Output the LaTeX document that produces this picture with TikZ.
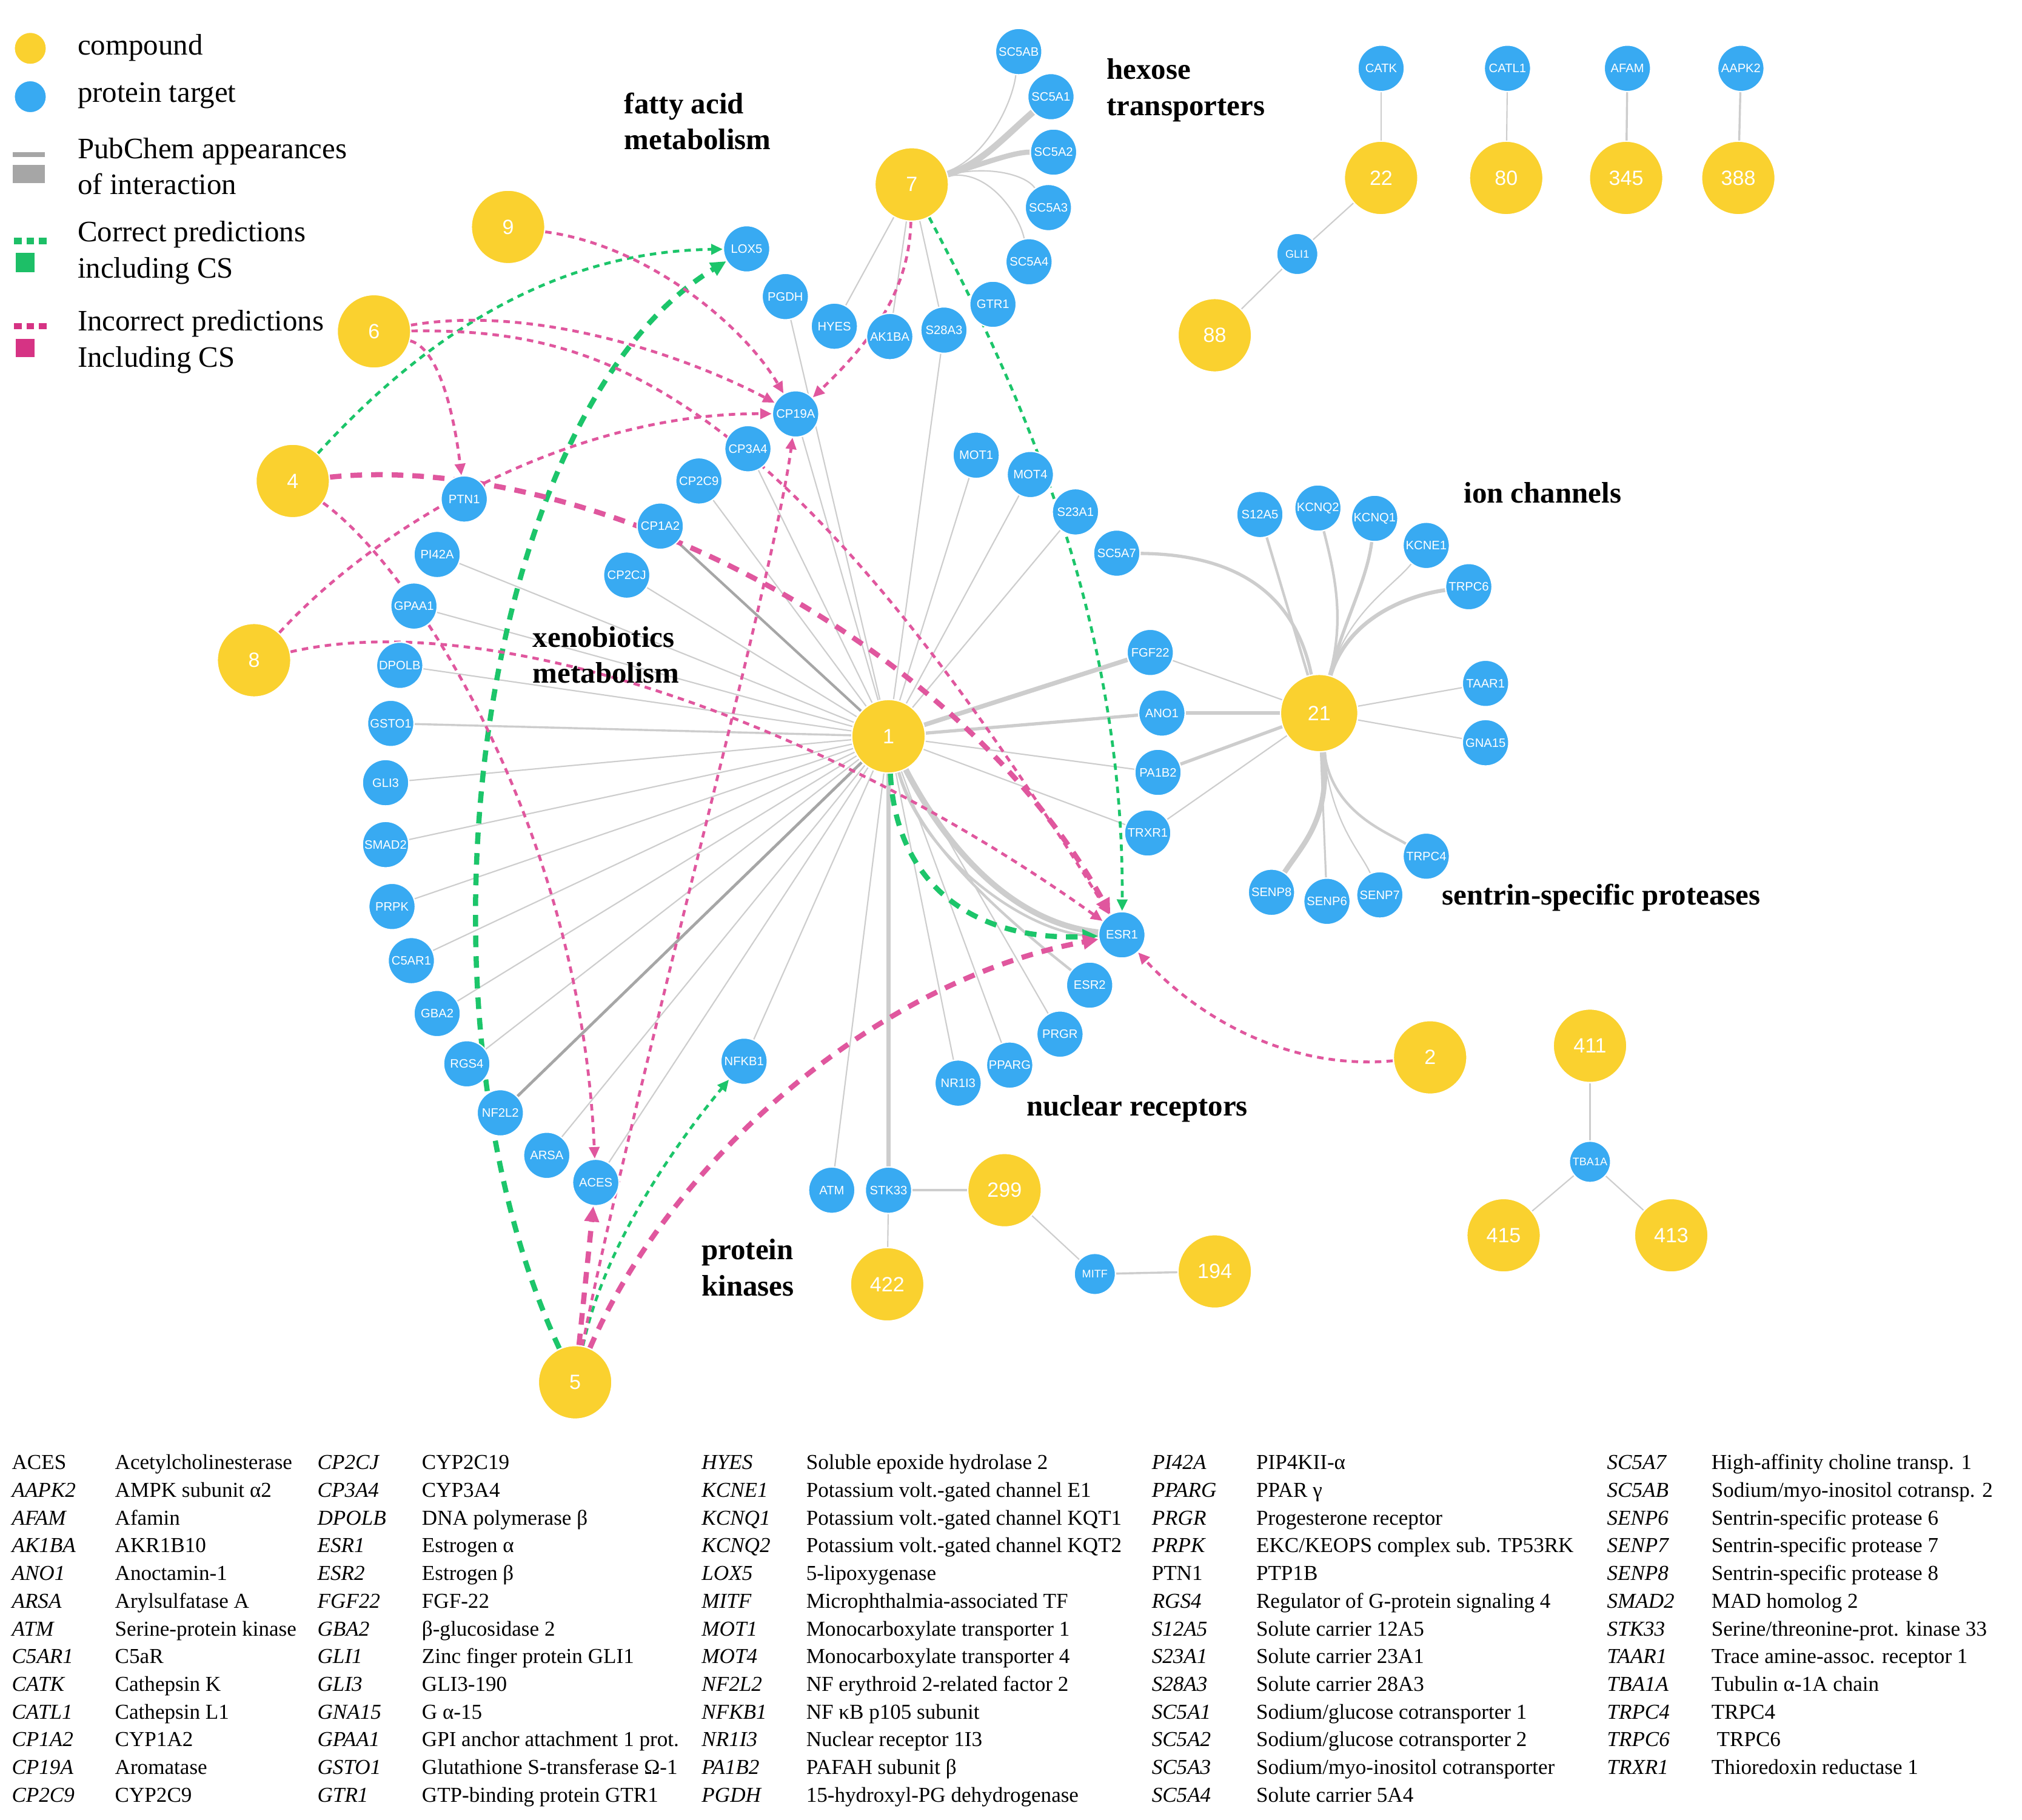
\documentclass[tikz,border=0pt]{standalone}
\usepackage{fontspec}
\setmainfont{Liberation Serif}
\newfontfamily\lblfont{Liberation Sans}
\usetikzlibrary{arrows.meta}
\definecolor{cmpY}{HTML}{FAD12F}
\definecolor{protB}{HTML}{38AAF2}
\definecolor{okG}{HTML}{1CC56A}
\definecolor{badP}{HTML}{E0579E}
\definecolor{okSq}{HTML}{1DBF67}
\definecolor{badSq}{HTML}{D63384}
\definecolor{edgeC}{HTML}{CDCDCD}
\definecolor{edgeD}{HTML}{A6A6A6}
\pgfdeclarelayer{bg}
\pgfdeclarelayer{mid}
\pgfsetlayers{bg,mid,main}
\begin{document}
\begin{tikzpicture}[x=1pt,y=-1pt,
  cmp/.style={circle,fill=cmpY,draw=white,line width=1pt,minimum size=57pt,inner sep=0pt,text=white,font=\lblfont\fontsize{16}{16}\selectfont},
  prot/.style={circle,fill=protB,draw=white,line width=1pt,minimum size=36pt,inner sep=0pt,text=white,font=\lblfont\fontsize{9.5}{9.5}\selectfont},
  sprot/.style={prot,minimum size=32pt,font=\lblfont\fontsize{8.5}{8.5}\selectfont},
  ge/.style={draw=edgeC,line width=1pt},
  gw/.style={draw=edgeC,line width=#1},
  gd/.style={draw=edgeD,line width=#1},
  okthin/.style={draw=okG,line width=2.2pt,dash pattern=on 5pt off 4pt,-{Triangle[length=9pt,width=8pt]}},
  okthick/.style={draw=okG,line width=4pt,dash pattern=on 9pt off 7pt,-{Triangle[length=12pt,width=11pt]}},
  badthin/.style={draw=badP,line width=2.2pt,dash pattern=on 5pt off 4pt,-{Triangle[length=9pt,width=8pt]}},
  badthick/.style={draw=badP,line width=4pt,dash pattern=on 9pt off 7pt,-{Triangle[length=12pt,width=11pt]}},
  grp/.style={font=\bfseries\fontsize{23}{28}\selectfont,align=left,inner sep=0pt,anchor=west},
  lgd/.style={font=\fontsize{23}{28}\selectfont,align=left,inner sep=0pt,anchor=west},
  tbl/.style={font=\fontsize{16.5}{21.5}\selectfont,inner sep=0pt,anchor=base west}
]
\clip (0,0) rectangle (1568,1411);

% ---------- compounds ----------
\node[cmp] (c1) at (689,571) {1};
\node[cmp] (c2) at (1109,820) {2};
\node[cmp] (c4) at (227,373) {4};
\node[cmp] (c5) at (446,1072) {5};
\node[cmp] (c6) at (290,257) {6};
\node[cmp] (c7) at (707,143) {7};
\node[cmp] (c8) at (197,512) {8};
\node[cmp] (c9) at (394,176) {9};
\node[cmp,minimum size=60pt] (c21) at (1023,553) {21};
\node[cmp] (c22) at (1071,138) {22};
\node[cmp] (c80) at (1168,138) {80};
\node[cmp] (c345) at (1261,138) {345};
\node[cmp] (c388) at (1348,138) {388};
\node[cmp] (c88) at (942,260) {88};
\node[cmp] (c299) at (779,923) {299};
\node[cmp] (c422) at (688,996) {422};
\node[cmp] (c194) at (942,986) {194};
\node[cmp] (c411) at (1233,811) {411};
\node[cmp] (c415) at (1166,958) {415};
\node[cmp] (c413) at (1296,958) {413};

% ---------- protein targets ----------
\node[prot] (pSC5AB) at (790,40) {SC5AB};
\node[prot] (pSC5A1) at (815,75) {SC5A1};
\node[prot] (pSC5A2) at (817,118) {SC5A2};
\node[prot] (pSC5A3) at (813,161) {SC5A3};
\node[prot] (pSC5A4) at (798,203) {SC5A4};
\node[prot] (pGTR1) at (770,236) {GTR1};
\node[prot] (pS28A3) at (732,256) {S28A3};
\node[prot] (pAK1BA) at (690,261) {AK1BA};
\node[prot] (pHYES) at (647,253) {HYES};
\node[prot] (pPGDH) at (609,230) {PGDH};
\node[prot] (pLOX5) at (579,193) {LOX5};
\node[prot] (pCP19A) at (617,321) {CP19A};
\node[prot] (pCP3A4) at (580,348) {CP3A4};
\node[prot] (pCP2C9) at (542,373) {CP2C9};
\node[prot] (pCP1A2) at (512,408) {CP1A2};
\node[prot] (pCP2CJ) at (486,446) {CP2CJ};
\node[prot] (pPTN1) at (360,387) {PTN1};
\node[prot] (pPI42A) at (339,430) {PI42A};
\node[prot] (pGPAA1) at (321,470) {GPAA1};
\node[prot] (pDPOLB) at (310,516) {DPOLB};
\node[prot] (pGSTO1) at (303,561) {GSTO1};
\node[prot] (pGLI3) at (299,607) {GLI3};
\node[prot] (pSMAD2) at (299,655) {SMAD2};
\node[prot] (pPRPK) at (304,703) {PRPK};
\node[prot] (pC5AR1) at (319,745) {C5AR1};
\node[prot] (pGBA2) at (339,786) {GBA2};
\node[prot] (pRGS4) at (362,825) {RGS4};
\node[prot] (pNF2L2) at (388,863) {NF2L2};
\node[prot] (pARSA) at (424,896) {ARSA};
\node[prot] (pACES) at (462,917) {ACES};
\node[prot] (pNFKB1) at (577,823) {NFKB1};
\node[prot] (pMOT1) at (757,353) {MOT1};
\node[prot] (pMOT4) at (799,368) {MOT4};
\node[prot] (pS23A1) at (834,397) {S23A1};
\node[prot] (pSC5A7) at (866,429) {SC5A7};
\node[prot] (pFGF22) at (892,506) {FGF22};
\node[prot] (pANO1) at (901,553) {ANO1};
\node[prot] (pPA1B2) at (898,599) {PA1B2};
\node[prot] (pTRXR1) at (890,646) {TRXR1};
\node[prot] (pESR1) at (870,725) {ESR1};
\node[prot] (pESR2) at (845,764) {ESR2};
\node[prot] (pPRGR) at (822,802) {PRGR};
\node[prot] (pPPARG) at (783,826) {PPARG};
\node[prot] (pNR1I3) at (743,840) {NR1I3};
\node[prot] (pATM) at (645,923) {ATM};
\node[prot] (pSTK33) at (689,923) {STK33};
\node[sprot] (pMITF) at (849,988) {MITF};
\node[prot] (pS12A5) at (977,399) {S12A5};
\node[prot] (pKCNQ2) at (1022,394) {KCNQ2};
\node[prot] (pKCNQ1) at (1066,402) {KCNQ1};
\node[prot] (pKCNE1) at (1106,423) {KCNE1};
\node[prot] (pTRPC6) at (1139,455) {TRPC6};
\node[prot] (pTAAR1) at (1152,530) {TAAR1};
\node[prot] (pGNA15) at (1152,576) {GNA15};
\node[prot] (pTRPC4) at (1106,664) {TRPC4};
\node[prot] (pSENP7) at (1070,694) {SENP7};
\node[prot] (pSENP6) at (1029,699) {SENP6};
\node[prot] (pSENP8) at (986,692) {SENP8};
\node[prot] (pCATK) at (1071,53) {CATK};
\node[prot] (pCATL1) at (1169,53) {CATL1};
\node[prot] (pAFAM) at (1262,53) {AFAM};
\node[prot] (pAAPK2) at (1350,53) {AAPK2};
\node[sprot] (pGLI1) at (1006,197) {GLI1};
\node[sprot] (pTBA1A) at (1233,901) {TBA1A};

% ---------- group labels ----------
\node[grp] (gFat) at (484,94) {fatty acid\\metabolism};
\node[grp] (gHex) at (858,70) {hexose\\transporters};
\node[grp] (gIon) at (1135,382) {ion channels};
\node[grp] (gXen) at (413,508) {xenobiotics\\metabolism};
\node[grp] (gSen) at (1118,696) {sentrin-specific proteases};
\node[grp] (gNuc) at (796,860) {nuclear receptors};
\node[grp] (gKin) at (544,983) {protein\\kinases};

% ---------- legend ----------
\node[cmp,minimum size=25pt] (lgCmp) at (23.5,37.5) {};
\node[prot,minimum size=25pt] (lgProt) at (23.5,75) {};
\node[lgd] (lgCmpT) at (60,37) {compound};
\node[lgd] (lgProtT) at (60,74) {protein target};
\fill[edgeD] (10,118) rectangle (35,122);
\fill[edgeD] (10,128) rectangle (35,142);
\node[lgd] (lgPubT) at (60,129) {PubChem appearances\\of interaction};
\draw[okSq,line width=5pt,dash pattern=on 6pt off 3.5pt] (11,187) -- (36,187);
\fill[okSq] (12,196) rectangle (27,211);
\node[lgd] (lgOkT) at (60,196) {Correct predictions\\including CS};
\draw[badSq,line width=5pt,dash pattern=on 6pt off 3.5pt] (11,253) -- (36,253);
\fill[badSq] (12,263) rectangle (27,277);
\node[lgd] (lgBadT) at (60,265) {Incorrect predictions\\Including CS};

% ---------- PubChem interactions ----------
\begin{pgfonlayer}{bg}
\fill[white] (0,0) rectangle (1568,1411);
\foreach \p in {pPGDH,pCP19A,pCP3A4,pCP2C9,pCP2CJ,pPI42A,pGPAA1,pDPOLB,pGLI3,pSMAD2,pPRPK,pC5AR1,pGBA2,pRGS4,pARSA,pACES,pNFKB1,pATM,pNR1I3,pPPARG,pPRGR,pTRXR1,pPA1B2,pS23A1,pMOT4,pMOT1,pS28A3}
  \draw[ge] (c1) -- (\p);
\draw[gd=2pt] (c1) -- (pCP1A2);
\draw[gd=2.2pt] (c1) -- (pNF2L2);
\draw[gw=1.6pt] (c1) -- (pGSTO1);
\draw[gw=3pt] (c1) -- (pSTK33);
\draw[gw=3.5pt] (c1) -- (pFGF22);
\draw[gw=2.5pt] (c1) -- (pANO1);
\draw[gw=4.5pt] (c1) .. controls (730,650) and (780,715) .. (pESR1);
\draw[gw=2pt] (c1) .. controls (715,665) and (800,728) .. (pESR1);
\draw[gw=2pt] (c1) .. controls (715,660) and (790,720) .. (pESR2);
\draw[gw=5pt] (c7) .. controls (760,128) and (780,105) .. (pSC5A1);
\draw[gw=4pt] (c7) .. controls (760,128) and (785,118) .. (pSC5A2);
\draw[ge] (c7) .. controls (765,122) and (785,80) .. (pSC5AB);
\draw[ge] (c7) .. controls (765,128) and (795,135) .. (pSC5A3);
\draw[ge] (c7) .. controls (765,130) and (790,165) .. (pSC5A4);
\draw[ge] (c7) -- (pHYES);
\draw[ge] (c7) -- (pAK1BA);
\draw[ge] (c7) -- (pS28A3);
\draw[ge] (c21) -- (pFGF22);
\draw[gw=3pt] (c21) -- (pANO1);
\draw[gw=2.5pt] (c21) -- (pPA1B2);
\draw[ge] (c21) -- (pTRXR1);
\draw[ge] (c21) -- (pTAAR1);
\draw[ge] (c21) -- (pGNA15);
\draw[gw=2.5pt] (pSC5A7) .. controls (970,430) and (1006,470) .. (c21);
\draw[gw=2pt] (c21) -- (pS12A5);
\draw[gw=2pt] (c21) .. controls (1043,480) and (1035,445) .. (pKCNQ2);
\draw[gw=2.5pt] (c21) .. controls (1043,480) and (1060,450) .. (pKCNQ1);
\draw[ge] (c21) .. controls (1045,475) and (1080,455) .. (pKCNE1);
\draw[gw=3pt] (c21) .. controls (1045,480) and (1090,462) .. (pTRPC6);
\draw[gw=4pt] (c21) .. controls (1032,635) and (1010,655) .. (pSENP8);
\draw[gw=1.5pt] (c21) -- (pSENP6);
\draw[ge] (c21) .. controls (1033,640) and (1055,660) .. (pSENP7);
\draw[gw=2pt] (c21) .. controls (1033,630) and (1075,645) .. (pTRPC4);
\draw[ge] (pCATK) -- (c22);
\draw[ge] (pCATL1) -- (c80);
\draw[gw=1.6pt] (pAFAM) -- (c345);
\draw[gw=1.6pt] (pAAPK2) -- (c388);
\draw[ge] (c22) -- (pGLI1);
\draw[ge] (pGLI1) -- (c88);
\draw[gw=1.6pt] (pSTK33) -- (c299);
\draw[ge] (pSTK33) -- (c422);
\draw[ge] (c299) -- (pMITF);
\draw[gw=1.6pt] (pMITF) -- (c194);
\draw[ge] (c411) -- (pTBA1A);
\draw[ge] (pTBA1A) -- (c415);
\draw[ge] (pTBA1A) -- (c413);
\end{pgfonlayer}

% ---------- predictions ----------
\begin{pgfonlayer}{mid}
\draw[okthin] (c4) .. controls (330,260) and (430,195) .. (pLOX5);
\draw[okthick] (c5) .. controls (310,780) and (370,320) .. (pLOX5);
\draw[okthin] (c5) .. controls (470,960) and (530,880) .. (pNFKB1);
\draw[okthick] (c1) .. controls (695,690) and (760,730) .. (pESR1);
\draw[okthin] (c7) .. controls (790,300) and (872,480) .. (pESR1);
\draw[badthin] (c9) .. controls (500,190) and (575,250) .. (pCP19A);
\draw[badthin] (c6) .. controls (420,235) and (540,280) .. (pCP19A);
\draw[badthin] (c6) .. controls (460,255) and (600,290) .. (pESR1);
\draw[badthin] (c6) .. controls (340,270) and (352,320) .. (pPTN1);
\draw[badthin] (c8) .. controls (300,400) and (450,320) .. (pCP19A);
\draw[badthin] (c8) .. controls (380,470) and (640,560) .. (pESR1);
\draw[badthin] (c4) .. controls (320,440) and (450,640) .. (pACES);
\draw[badthin] (c5) .. controls (490,850) and (600,450) .. (pCP19A);
\draw[badthin] (c7) .. controls (705,230) and (670,270) .. (pCP19A);
\draw[badthin] (c2) .. controls (1000,830) and (930,790) .. (pESR1);
\draw[badthick] (c4) .. controls (450,350) and (740,490) .. (pESR1);
\draw[badthick] (c5) .. controls (520,900) and (680,760) .. (pESR1);
\draw[badthick] (c5) -- (pACES);
\end{pgfonlayer}

% ---------- abbreviation table ----------
\node[tbl] (tab1) at (9,1139.5) {\begin{tabular}[t]{@{}p{80pt}@{}l@{}}
ACES & Acetylcholinesterase\\
\textit{AAPK2} & AMPK subunit α2\\
\textit{AFAM} & Afamin\\
\textit{AK1BA} & AKR1B10\\
\textit{ANO1} & Anoctamin-1\\
\textit{ARSA} & Arylsulfatase A\\
\textit{ATM} & Serine-protein kinase\\
\textit{C5AR1} & C5aR\\
\textit{CATK} & Cathepsin K\\
\textit{CATL1} & Cathepsin L1\\
\textit{CP1A2} & CYP1A2\\
\textit{CP19A} & Aromatase\\
\textit{CP2C9} & CYP2C9
\end{tabular}};
\node[tbl] (tab2) at (246,1139.5) {\begin{tabular}[t]{@{}p{81pt}@{}l@{}}
\textit{CP2CJ} & CYP2C19\\
\textit{CP3A4} & CYP3A4\\
\textit{DPOLB} & DNA polymerase β\\
\textit{ESR1} & Estrogen α\\
\textit{ESR2} & Estrogen β\\
\textit{FGF22} & FGF-22\\
\textit{GBA2} & β-glucosidase 2\\
\textit{GLI1} & Zinc finger protein GLI1\\
\textit{GLI3} & GLI3-190\\
\textit{GNA15} & G α-15\\
\textit{GPAA1} & GPI anchor attachment 1 prot.\\
\textit{GSTO1} & Glutathione S-transferase Ω-1\\
\textit{GTR1} & GTP-binding protein GTR1
\end{tabular}};
\node[tbl] (tab3) at (544,1139.5) {\begin{tabular}[t]{@{}p{81pt}@{}l@{}}
\textit{HYES} & Soluble epoxide hydrolase 2\\
\textit{KCNE1} & Potassium volt.-gated channel E1\\
\textit{KCNQ1} & Potassium volt.-gated channel KQT1\\
\textit{KCNQ2} & Potassium volt.-gated channel KQT2\\
\textit{LOX5} & 5-lipoxygenase\\
\textit{MITF} & Microphthalmia-associated TF\\
\textit{MOT1} & Monocarboxylate transporter 1\\
\textit{MOT4} & Monocarboxylate transporter 4\\
\textit{NF2L2} & NF erythroid 2-related factor 2\\
\textit{NFKB1} & NF κB p105 subunit\\
\textit{NR1I3} & Nuclear receptor 1I3\\
\textit{PA1B2} & PAFAH subunit β\\
\textit{PGDH} & 15-hydroxyl-PG dehydrogenase
\end{tabular}};
\node[tbl] (tab4) at (893,1139.5) {\begin{tabular}[t]{@{}p{81pt}@{}l@{}}
\textit{PI42A} & PIP4KII-α\\
\textit{PPARG} & PPAR γ\\
\textit{PRGR} & Progesterone receptor\\
\textit{PRPK} & EKC/KEOPS complex sub. TP53RK\\
PTN1 & PTP1B\\
\textit{RGS4} & Regulator of G-protein signaling 4\\
\textit{S12A5} & Solute carrier 12A5\\
\textit{S23A1} & Solute carrier 23A1\\
\textit{S28A3} & Solute carrier 28A3\\
\textit{SC5A1} & Sodium/glucose cotransporter 1\\
\textit{SC5A2} & Sodium/glucose cotransporter 2\\
\textit{SC5A3} & Sodium/myo-inositol cotransporter\\
\textit{SC5A4} & Solute carrier 5A4
\end{tabular}};
\node[tbl] (tab5) at (1246,1139.5) {\begin{tabular}[t]{@{}p{81pt}@{}l@{}}
\textit{SC5A7} & High-affinity choline transp. 1\\
\textit{SC5AB} & Sodium/myo-inositol cotransp. 2\\
\textit{SENP6} & Sentrin-specific protease 6\\
\textit{SENP7} & Sentrin-specific protease 7\\
\textit{SENP8} & Sentrin-specific protease 8\\
\textit{SMAD2} & MAD homolog 2\\
\textit{STK33} & Serine/threonine-prot. kinase 33\\
\textit{TAAR1} & Trace amine-assoc. receptor 1\\
\textit{TBA1A} & Tubulin α-1A chain\\
\textit{TRPC4} & TRPC4\\
\textit{TRPC6} & \ TRPC6\\
\textit{TRXR1} & Thioredoxin reductase 1
\end{tabular}};
\end{tikzpicture}
\end{document}
